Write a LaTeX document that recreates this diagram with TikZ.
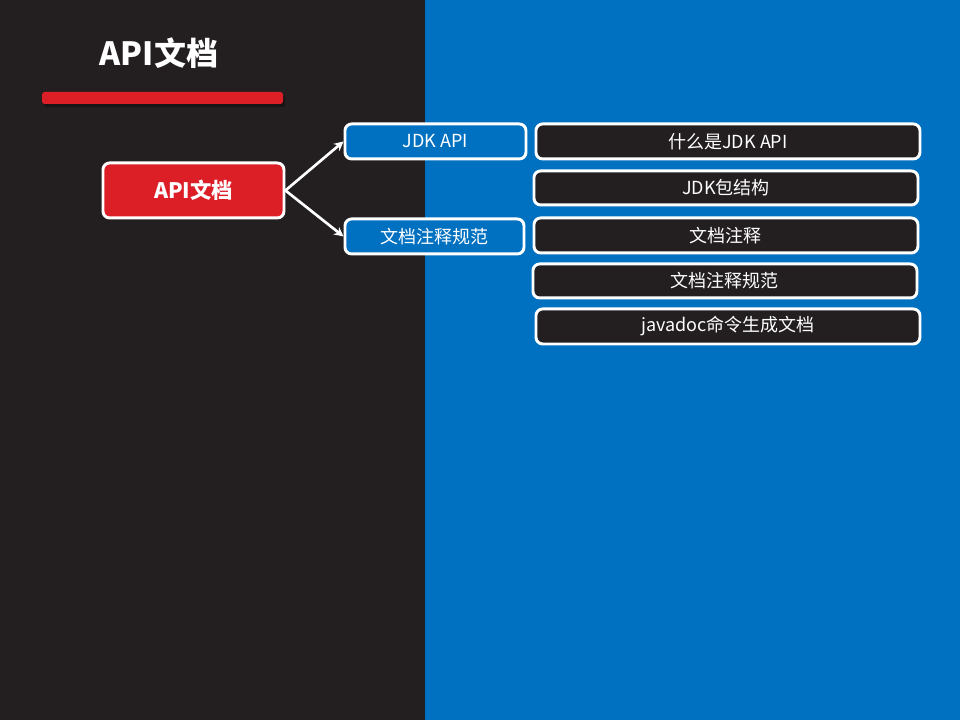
\documentclass[tikz,border=0pt]{standalone}
\usepackage{fontspec}
\setmainfont{Noto Sans CJK SC}
\usetikzlibrary{arrows.meta,shadows}
\definecolor{darkbg}{HTML}{231F20}
\definecolor{bluebg}{HTML}{0070C0}
\definecolor{redc}{HTML}{DC1E26}
\tikzset{
  box/.style={draw=white,line width=2.2pt,rounded corners=5pt,text=white,font=\fontsize{13.5}{16}\selectfont,inner sep=0pt,anchor=north west},
  darkbox/.style={box,fill=darkbg},
  bluebox/.style={box,fill=bluebg},
  conn/.style={draw=white,line width=2pt,-{Stealth[length=7pt,width=7pt]}}
}
\begin{document}
\begin{tikzpicture}[x=0.75pt,y=-0.75pt]
\useasboundingbox (0,0) rectangle (960,720);
\fill[darkbg] (0,0) rectangle (425,720);
\fill[bluebg] (425,0) rectangle (960,720);
\node[text=white,font=\bfseries\fontsize{24}{28}\selectfont] (title) at (159,53) {API文档};
\fill[black,opacity=0.35,rounded corners=2pt] (44,95) rectangle (285,107);
\fill[redc,rounded corners=2pt] (42,92) rectangle (283,104);
\node[box,fill=redc,minimum width=181*0.75pt,minimum height=55*0.75pt,font=\bfseries\fontsize{16}{19}\selectfont] (root) at (101.5,161.5) {API文档};
\node[bluebox,minimum width=181*0.75pt,minimum height=35*0.75pt] (jdk) at (343.5,122.5) {JDK API};
\node[bluebox,minimum width=179*0.75pt,minimum height=35*0.75pt] (doc) at (343.5,217.5) {文档注释规范};
\node[darkbox,minimum width=384*0.75pt,minimum height=35*0.75pt] (c1) at (534.5,122.5) {什么是JDK API};
\node[darkbox,minimum width=384*0.75pt,minimum height=34*0.75pt] (c2) at (532.5,169.5) {JDK包结构};
\node[darkbox,minimum width=384*0.75pt,minimum height=35*0.75pt] (c3) at (532.5,216.5) {文档注释};
\node[darkbox,minimum width=384*0.75pt,minimum height=34*0.75pt] (c4) at (531.5,262.5) {文档注释规范};
\node[darkbox,minimum width=384*0.75pt,minimum height=35*0.75pt] (c5) at (534.5,307.5) {javadoc命令生成文档};
\draw[conn] (root.east) -- (jdk.west);
\draw[conn] (root.east) -- (doc.west);
\end{tikzpicture}
\end{document}
